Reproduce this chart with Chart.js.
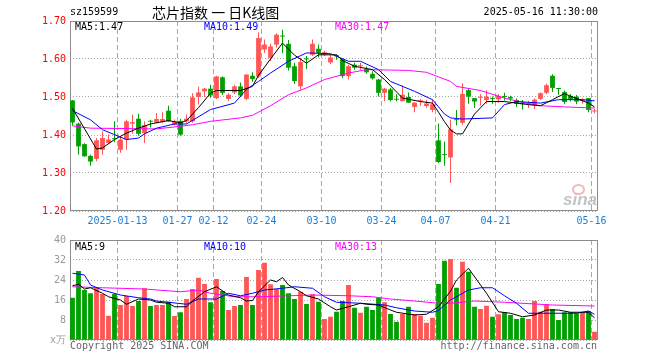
<!DOCTYPE html>
<html>
<head>
<meta charset="utf-8">
<script src="https://cdn.jsdelivr.net/npm/chart.js@4.4.1/dist/chart.umd.min.js"></script>
<style>
  html, body { margin:0; padding:0; background:#fff; }
  #wrap { position:relative; width:660px; height:360px; background:#fff; overflow:hidden; }
  canvas { position:absolute; left:0; }
  .t { position:absolute; white-space:pre; font-family:'DejaVu Sans Mono', monospace; font-size:10px; line-height:12px; }
</style>
</head>
<body>
<div id="wrap">
  <canvas id="k" width="660" height="230" style="top:0"></canvas>
  <canvas id="v" width="660" height="130" style="top:230px"></canvas>
  <div class="t" style="left:70px;top:6px;color:#000">sz159599</div>
  <div class="t" style="left:152px;top:3px;font-family:'Noto Sans CJK SC',sans-serif;font-size:14px;line-height:18px;color:#000">芯片指数 一 日K线图</div>
  <div class="t" style="right:62px;top:6px;color:#000">2025-05-16 11:30:00</div>
  <div class="t" id="l1" style="left:75px;top:21px;color:#000"></div>
  <div class="t" id="l2" style="left:204px;top:21px;color:#0000ff"></div>
  <div class="t" id="l3" style="left:335px;top:21px;color:#ff00ff"></div>
  <div class="t" id="v1" style="left:75px;top:241px;color:#000"></div>
  <div class="t" id="v2" style="left:204px;top:241px;color:#0000ff"></div>
  <div class="t" id="v3" style="left:335px;top:241px;color:#ff00ff"></div>
  <div class="t" style="left:70px;top:340px;color:#666">Copyright 2025 SINA.COM</div>
  <div class="t" style="right:63px;top:340px;color:#666">http://finance.sina.com.cn</div>
  <div style="position:absolute;left:572px;top:184px;width:13px;height:11px;border-radius:50%;border:2px solid rgba(240,120,120,0.55);box-sizing:border-box"></div>
  <div style="position:absolute;left:563px;top:190px;font-family:'Liberation Sans',sans-serif;font-style:italic;font-weight:bold;font-size:17px;line-height:20px;color:#c4c4c4">sina</div>
</div>
<script>
// ---------- data ----------
const dates = ['2024-12-31',
 '2025-01-02','2025-01-03','2025-01-06','2025-01-07','2025-01-08','2025-01-09','2025-01-10','2025-01-13','2025-01-14','2025-01-15',
 '2025-01-16','2025-01-17','2025-01-20','2025-01-21','2025-01-22','2025-01-23','2025-01-24','2025-01-27',
 '2025-02-05','2025-02-06','2025-02-07','2025-02-10','2025-02-11','2025-02-12','2025-02-13','2025-02-14','2025-02-17','2025-02-18',
 '2025-02-19','2025-02-20','2025-02-21','2025-02-24','2025-02-25','2025-02-26','2025-02-27','2025-02-28',
 '2025-03-03','2025-03-04','2025-03-05','2025-03-06','2025-03-07','2025-03-10','2025-03-11','2025-03-12','2025-03-13','2025-03-14',
 '2025-03-17','2025-03-18','2025-03-19','2025-03-20','2025-03-21','2025-03-24','2025-03-25','2025-03-26','2025-03-27','2025-03-28','2025-03-31',
 '2025-04-01','2025-04-02','2025-04-03','2025-04-07','2025-04-08','2025-04-09','2025-04-10','2025-04-11','2025-04-14','2025-04-15',
 '2025-04-16','2025-04-17','2025-04-18','2025-04-21','2025-04-22','2025-04-23','2025-04-24','2025-04-25','2025-04-28','2025-04-29','2025-04-30',
 '2025-05-06','2025-05-07','2025-05-08','2025-05-09','2025-05-12','2025-05-13','2025-05-14','2025-05-15','2025-05-16'];

const open = [1.491,1.430,1.376,1.345,1.337,1.361,1.379,1.391,1.361,1.388,
 1.430,1.443,1.405,1.437,1.433,1.434,1.464,1.427,1.437,1.436,
 1.436,1.500,1.515,1.522,1.497,1.552,1.495,1.512,1.528,1.495,
 1.556,1.554,1.625,1.603,1.638,1.661,1.640,1.581,1.528,1.601,
 1.611,1.627,1.612,1.591,1.609,1.599,1.555,1.585,1.581,1.574,
 1.561,1.546,1.511,1.520,1.495,1.489,1.500,1.474,1.489,1.476,
 1.466,1.386,1.349,1.341,1.441,1.432,1.518,1.497,1.498,1.492,
 1.497,1.494,1.502,1.500,1.492,1.483,1.481,1.478,1.495,1.511,
 1.556,1.523,1.513,1.503,1.501,1.490,1.497,1.462];
const close = [1.433,1.370,1.344,1.330,1.386,1.392,1.388,1.389,1.388,1.436,
 1.434,1.403,1.426,1.435,1.442,1.442,1.436,1.436,1.401,1.443,
 1.499,1.512,1.522,1.504,1.554,1.511,1.506,1.528,1.504,1.559,
 1.547,1.655,1.638,1.633,1.664,1.659,1.577,1.542,1.592,1.599,
 1.640,1.616,1.618,1.604,1.607,1.555,1.581,1.577,1.583,1.565,
 1.549,1.511,1.522,1.492,1.493,1.506,1.485,1.485,1.491,1.483,
 1.481,1.329,1.347,1.415,1.439,1.508,1.501,1.488,1.500,1.501,
 1.495,1.503,1.500,1.496,1.482,1.481,1.483,1.493,1.510,1.531,
 1.524,1.521,1.487,1.494,1.488,1.492,1.466,1.464];
const high = [1.492,1.432,1.378,1.348,1.392,1.410,1.401,1.436,1.396,1.440,
 1.453,1.456,1.436,1.440,1.458,1.460,1.477,1.441,1.443,1.454,
 1.510,1.527,1.524,1.532,1.556,1.554,1.510,1.532,1.538,1.560,
 1.565,1.670,1.651,1.640,1.668,1.677,1.650,1.590,1.603,1.608,
 1.651,1.638,1.622,1.612,1.612,1.602,1.585,1.590,1.590,1.580,
 1.568,1.548,1.524,1.524,1.507,1.530,1.512,1.487,1.494,1.492,
 1.494,1.430,1.383,1.440,1.466,1.536,1.523,1.497,1.507,1.518,
 1.501,1.508,1.511,1.503,1.496,1.492,1.490,1.496,1.512,1.535,
 1.560,1.524,1.517,1.508,1.505,1.497,1.497,1.470];
const low = [1.425,1.348,1.343,1.319,1.331,1.348,1.376,1.381,1.353,1.361,
 1.403,1.398,1.379,1.420,1.431,1.432,1.434,1.425,1.398,1.430,
 1.432,1.480,1.500,1.498,1.495,1.505,1.490,1.508,1.500,1.492,
 1.540,1.550,1.616,1.595,1.630,1.616,1.570,1.534,1.520,1.574,
 1.608,1.604,1.607,1.586,1.598,1.550,1.546,1.572,1.572,1.561,
 1.546,1.501,1.489,1.489,1.489,1.489,1.484,1.460,1.476,1.472,
 1.460,1.326,1.319,1.274,1.425,1.427,1.482,1.471,1.477,1.482,
 1.482,1.485,1.490,1.490,1.474,1.467,1.471,1.468,1.492,1.508,
 1.513,1.506,1.481,1.488,1.481,1.482,1.460,1.457];
// volume, in 10k units
const volume = [16.9,27.6,20.0,18.7,20.9,18.4,9.7,18.4,14.0,17.6,
 13.6,15.6,20.7,13.6,14.0,14.0,15.3,9.6,11.1,16.4,
 20.4,24.9,22.4,15.1,24.4,19.6,12.0,13.6,14.0,25.2,
 14.0,28.0,30.9,22.3,20.4,22.0,18.7,16.4,19.3,14.4,
 18.3,15.3,8.4,9.3,11.3,15.6,22.0,12.9,10.9,13.3,
 12.0,16.9,15.1,10.4,7.3,10.4,13.3,10.4,9.7,6.9,
 8.9,22.4,31.7,32.4,20.9,31.3,27.3,13.3,12.4,13.7,
 9.3,10.3,11.1,10.0,8.4,8.9,8.4,15.6,11.3,14.3,
 12.4,8.0,11.1,11.1,10.7,11.1,11.6,3.3];

// moving-average lines (candle index, value)
const ma5Idx  = [0,4,5,7,9,11,13,16,18,19,21,23,24,28,30,31,33,35,37,39,41,44,45,47,50,52,55,58,60,61,62,63,64,65,67,69,72,76,78,80,82,83,86,87];
const ma5Val  = [1.470,1.363,1.366,1.388,1.405,1.418,1.429,1.438,1.432,1.438,1.472,1.510,1.517,1.517,1.528,1.557,1.600,1.642,1.610,1.589,1.611,1.611,1.596,1.581,1.572,1.546,1.497,1.488,1.484,1.460,1.435,1.413,1.403,1.403,1.455,1.488,1.488,1.480,1.477,1.493,1.509,1.502,1.484,1.474];
const ma10Idx = [0,3,5,9,11,12,14,17,19,23,27,29,31,33,36,39,43,46,48,51,53,57,60,61,62,63,65,70,72,74,78,81,85,87];
const ma10Val = [1.464,1.440,1.414,1.388,1.392,1.403,1.418,1.429,1.429,1.467,1.484,1.520,1.541,1.563,1.594,1.616,1.614,1.594,1.594,1.572,1.541,1.515,1.493,1.474,1.455,1.445,1.442,1.445,1.480,1.488,1.484,1.493,1.493,1.490];
const ma30Idx = [0,3,14,18,20,23,28,30,31,33,36,39,42,46,49,56,59,61,63,64,68,72,75,78,82,87];
const ma30Val = [1.424,1.418,1.416,1.423,1.427,1.436,1.445,1.452,1.460,1.477,1.506,1.524,1.546,1.563,1.572,1.570,1.565,1.553,1.541,1.528,1.517,1.497,1.486,1.477,1.474,1.471];

const vma5Idx  = [0,1,2,3,5,6,8,9,11,13,14,16,17,19,20,22,24,26,28,29,30,31,33,34,35,36,38,39,41,43,44,46,48,49,51,53,54,57,59,61,63,64,66,68,69,71,73,75,77,79,81,83,86,87];
const vma5Val  = [21.7,22.3,20.4,20.9,18.7,17.3,16.0,14.3,16.4,16.0,15.1,14.7,13.3,13.3,15.6,19.3,21.3,18.0,16.9,15.6,15.8,19.3,24.0,23.3,25.0,22.0,19.3,17.7,16.4,13.3,12.0,13.3,14.7,14.3,14.0,12.0,11.1,10.0,10.3,13.3,19.5,24.0,28.7,22.0,18.7,11.3,10.7,9.3,10.0,12.0,12.0,11.1,11.1,8.9];
const vma10Idx = [0,2,3,5,8,11,13,14,16,19,21,24,26,28,30,32,35,37,40,42,44,48,52,54,57,60,61,63,66,68,70,72,74,76,78,84,86,87];
const vma10Val = [26.7,26.0,22.0,20.0,18.0,16.9,16.4,15.6,15.1,14.3,16.4,16.4,18.7,17.7,18.7,20.0,20.7,21.3,20.7,17.3,15.1,14.7,14.0,12.9,11.6,11.1,11.8,16.0,20.0,20.9,20.9,17.7,14.7,10.7,10.7,10.7,11.6,10.3];
const vma30Idx = [0,5,12,18,21,23,27,31,35,40,46,50,53,57,61,63,67,72,80,87];
const vma30Val = [21.3,20.9,20.4,19.3,20.0,18.7,17.3,17.3,17.6,18.0,17.7,17.3,16.4,15.6,14.7,14.7,15.6,15.1,14.0,13.6];

const priceTicks = [1.20,1.30,1.40,1.50,1.60,1.70];
const volTicks = [0,8,16,24,32,40];
const tickDates = ['2025-01-13','2025-01-27','2025-02-12','2025-02-24','2025-03-10','2025-03-24','2025-04-07','2025-04-21','2025-05-16'];
const tickText  = ['2025-01-13','01-27','02-12','02-24','03-10','03-24','04-07','04-21','05-16'];
const priceLegend = ['MA5:1.47','MA10:1.49','MA30:1.47'];
const volLegend = ['MA5:9','MA10:10','MA30:13'];

// ---------- drawing ----------
const MONO = "'DejaVu Sans Mono', monospace";
const RED = '#ff5555', GREEN = '#00a000';
const up = close.map((c,i) => c > open[i]);
const candleColor = up.map(u => u ? RED : GREEN);
const tickIdx = tickDates.map(d => dates.indexOf(d));
const N = dates.length;
const X_MIN = -5/12, X_MAX = N - 5/12;

['l1','l2','l3'].forEach((id,k) => document.getElementById(id).textContent = priceLegend[k]);
['v1','v2','v3'].forEach((id,k) => document.getElementById(id).textContent = volLegend[k]);

const framePlugin = {
  id: 'frame',
  beforeDatasetsDraw(c) {
    const {left, top, right, bottom} = c.chartArea;
    const ctx = c.ctx;
    ctx.save();
    ctx.strokeStyle = '#8c8c8c';
    ctx.lineWidth = 1;
    ctx.setLineDash([]);
    ctx.strokeRect(left + 0.5, top + 0.5, right - left - 1, bottom - top - 1);
    ctx.restore();
  }
};

function xScale(showLabels, h) {
  return {
    type: 'linear', min: X_MIN, max: X_MAX, offset: false,
    afterBuildTicks: s => { s.ticks = tickIdx.map(i => ({value: i - 0.5})); },
    afterFit: s => { s.height = h; },
    ticks: { display: showLabels, autoSkip: false, maxRotation: 0, minRotation: 0, padding: 4,
             color: '#1a7fd8', font: {family: MONO, size: 10}, callback: (v, i) => tickText[i] },
    grid: { color: '#a8a8a8', lineWidth: 1, drawTicks: false, offset: false },
    border: { display: false, dash: [5, 3] }
  };
}
function line(idx, val, color) {
  return { type: 'line', data: idx.map((x, k) => ({x, y: val[k]})), borderColor: color,
           borderWidth: 1, pointRadius: 0, fill: false, tension: 0, order: 0 };
}

new Chart(document.getElementById('k'), {
  type: 'bar',
  data: {
    datasets: [
      line(ma5Idx, ma5Val, '#000000'),
      line(ma10Idx, ma10Val, '#0000ff'),
      line(ma30Idx, ma30Val, '#ff00ff'),
      { data: dates.map((d, i) => ({x: i, y: [open[i], close[i]]})), backgroundColor: candleColor,
        barPercentage: 1, maxBarThickness: 5, grouped: false, minBarLength: 1, borderWidth: 0, order: 1 },
      { data: dates.map((d, i) => ({x: i, y: [low[i], high[i]]})), backgroundColor: candleColor,
        barPercentage: 1, maxBarThickness: 1, grouped: false, borderWidth: 0, order: 2 }
    ]
  },
  options: {
    responsive: false, animation: false, devicePixelRatio: 1,
    layout: { padding: {left: 0, right: 62, top: 21, bottom: 0} },
    plugins: { legend: {display: false}, tooltip: {enabled: false} },
    scales: {
      x: xScale(true, 19),
      y: { type: 'linear', min: 1.2, max: 1.7,
           afterFit: s => { s.width = 70; },
           afterBuildTicks: s => { s.ticks = priceTicks.map(v => ({value: v})); },
           ticks: { color: '#ff0000', padding: 4, font: {family: MONO, size: 10}, callback: v => v.toFixed(2) },
           grid: { color: '#a8a8a8', drawTicks: false },
           border: { display: false, dash: [1, 2] } }
    }
  },
  plugins: [framePlugin]
});

new Chart(document.getElementById('v'), {
  type: 'bar',
  data: {
    datasets: [
      line(vma5Idx, vma5Val, '#000000'),
      line(vma10Idx, vma10Val, '#0000ff'),
      line(vma30Idx, vma30Val, '#ff00ff'),
      { data: volume.map((v, i) => ({x: i, y: v})), backgroundColor: candleColor,
        barPercentage: 1, maxBarThickness: 5, grouped: false, borderWidth: 0, order: 1 }
    ]
  },
  options: {
    responsive: false, animation: false, devicePixelRatio: 1,
    layout: { padding: {left: 0, right: 62, top: 10, bottom: 0} },
    plugins: { legend: {display: false}, tooltip: {enabled: false} },
    scales: {
      x: xScale(false, 20),
      y: { type: 'linear', min: 0, max: 40,
           afterFit: s => { s.width = 70; },
           afterBuildTicks: s => { s.ticks = volTicks.map(v => ({value: v})); },
           ticks: { color: '#9a9a9a', padding: 4, font: {family: MONO, size: 10}, callback: v => v === 0 ? 'x万' : String(v) },
           grid: { color: '#a8a8a8', drawTicks: false },
           border: { display: false, dash: [1, 2] } }
    }
  },
  plugins: [framePlugin]
});
</script>
</body>
</html>
